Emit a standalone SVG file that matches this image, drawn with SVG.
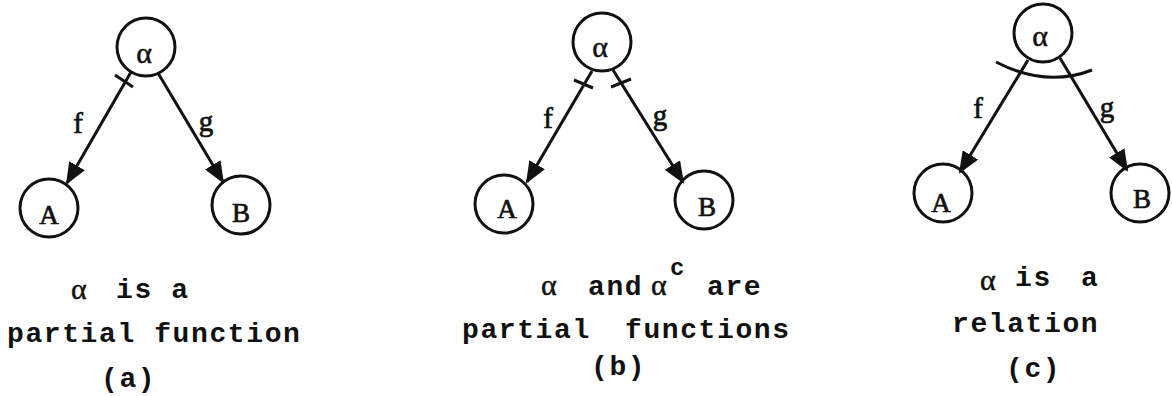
<svg xmlns="http://www.w3.org/2000/svg" width="1172" height="396" viewBox="0 0 1172 396">
<defs>
<marker id="arr" viewBox="0 0 22 18" refX="20" refY="9" markerWidth="22" markerHeight="18" markerUnits="userSpaceOnUse" orient="auto">
<path d="M0,0 L22,9 L0,18 z" fill="#111"/>
</marker>
</defs>
<style>
.node{fill:#fff;stroke:#111;stroke-width:3}
.edge{stroke:#111;stroke-width:3;fill:none;marker-end:url(#arr)}
.tick{stroke:#111;stroke-width:3;fill:none}
.lbl{font-family:"Liberation Serif","DejaVu Serif",serif;font-size:27px;fill:#111;stroke:#111;stroke-width:0.7;text-anchor:middle}
.el{font-size:29px}
.greek{font-family:"Liberation Serif","DejaVu Serif",serif;font-size:30px;fill:#111;stroke:#111;stroke-width:0.5}
.cap{font-family:"Liberation Mono","DejaVu Sans Mono",monospace;font-size:28px;font-weight:bold;letter-spacing:1.6px;fill:#111}
</style>
<rect width="1172" height="396" fill="#fff"/>

<!-- Panel (a) -->
<g id="a-alpha"><circle class="node" cx="146" cy="47" r="29"/><text class="greek" x="144" y="63" text-anchor="middle">α</text></g>
<g id="a-A"><circle class="node" cx="49" cy="208" r="29"/><text class="lbl" x="49" y="224">A</text></g>
<g id="a-B"><circle class="node" cx="241" cy="205" r="29"/><text class="lbl" x="241" y="222">B</text></g>

<!-- Panel (b) -->
<g id="b-alpha"><circle class="node" cx="602" cy="42" r="29"/><text class="greek" x="600" y="57" text-anchor="middle">α</text></g>
<g id="b-A"><circle class="node" cx="504" cy="204" r="29"/><text class="lbl" x="507" y="218">A</text></g>
<g id="b-B"><circle class="node" cx="704" cy="200" r="29"/><text class="lbl" x="707" y="216">B</text></g>

<!-- Panel (c) -->
<g id="c-alpha"><circle class="node" cx="1043" cy="33" r="29"/><text class="greek" x="1040" y="46" text-anchor="middle">α</text></g>
<g id="c-A"><circle class="node" cx="943" cy="193" r="29"/><text class="lbl" x="941" y="212">A</text></g>
<g id="c-B"><circle class="node" cx="1140" cy="193" r="29"/><text class="lbl" x="1142" y="208">B</text></g>

<g id="connectors">
<!-- (a) -->
<line class="edge" x1="131" y1="72" x2="67" y2="183"/>
<line class="edge" x1="158" y1="73" x2="223" y2="182"/>
<line class="tick" x1="115" y1="75" x2="133" y2="87"/>
<text class="lbl el" x="78" y="133">f</text>
<text class="lbl el" x="206" y="131">g</text>
<!-- (b) -->
<line class="edge" x1="592" y1="71" x2="527" y2="182"/>
<line class="edge" x1="613" y1="70" x2="683" y2="182"/>
<line class="tick" x1="574" y1="80" x2="593" y2="88"/>
<line class="tick" x1="611" y1="87" x2="631" y2="79"/>
<text class="lbl el" x="548" y="128">f</text>
<text class="lbl el" x="660" y="125">g</text>
<!-- (c) -->
<line class="edge" x1="1028" y1="60" x2="960" y2="172"/>
<line class="edge" x1="1060" y1="58" x2="1127" y2="170"/>
<path class="tick" d="M996,62 Q1046,88 1092,70"/>
<text class="lbl el" x="978" y="118">f</text>
<text class="lbl el" x="1107" y="117">g</text>
</g>

<g id="captions">
<!-- (a) -->
<text class="greek" x="71" y="299">α</text>
<text class="cap" x="116" y="298">is a</text>
<text class="cap" x="7" y="342">partial function</text>
<text class="cap" x="101" y="387">(a)</text>
<!-- (b) -->
<text class="greek" x="541" y="295">α</text>
<text class="cap" x="588" y="295">and</text>
<text class="greek" x="651" y="295">α</text>
<text class="cap" x="670" y="275" style="font-size:24px">c</text>
<text class="cap" x="707" y="295">are</text>
<text class="cap" x="462" y="338">partial</text>
<text class="cap" x="625" y="338">functions</text>
<text class="cap" x="591" y="375">(b)</text>
<!-- (c) -->
<text class="greek" x="980" y="290">α</text>
<text class="cap" x="1015" y="286">is</text>
<text class="cap" x="1081" y="286">a</text>
<text class="cap" x="952" y="332">relation</text>
<text class="cap" x="1006" y="377">(c)</text>
</g>
</svg>
